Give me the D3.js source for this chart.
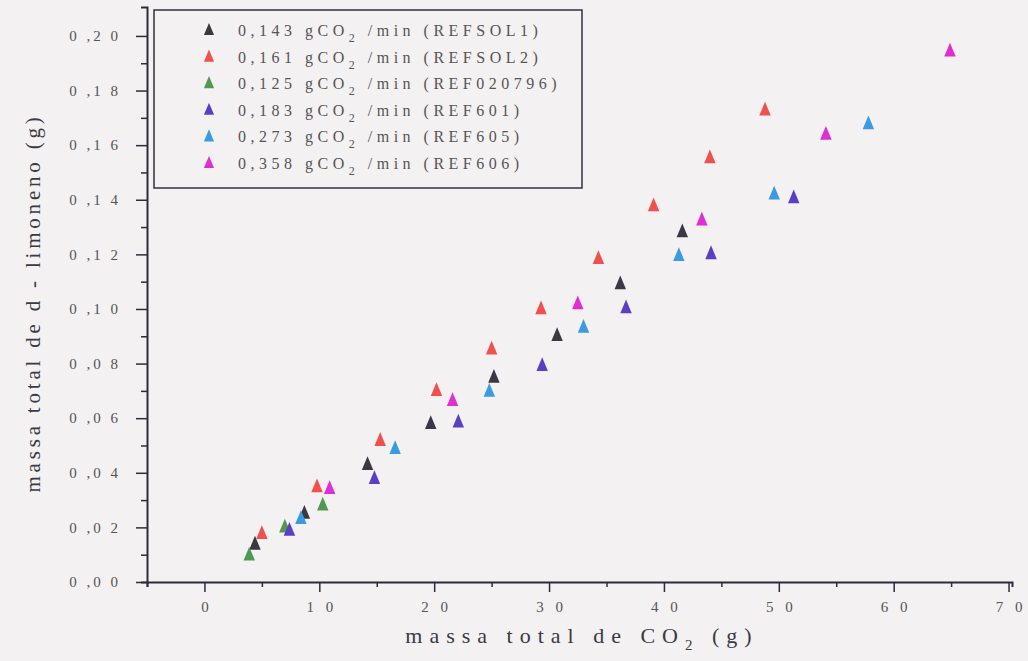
<!DOCTYPE html>
<html>
<head>
<meta charset="utf-8">
<script src="https://cdn.jsdelivr.net/npm/d3@7"></script>
<style>
  body { margin: 0; background: #f3f1f1; }
  svg { display: block; }
  text { font-family: "Liberation Serif", "DejaVu Serif", serif; }
</style>
</head>
<body>
<svg id="chart" width="1028" height="661"></svg>
<script>
// series: x = massa total de CO2 (g), y = massa total de d-limoneno (g)
const series = ['REFSOL1', 'REFSOL2', 'REF020796', 'REF601', 'REF605', 'REF606'];
const rates = ['0,143', '0,161', '0,125', '0,183', '0,273', '0,358'];
const colors = ['#3b3744', '#f0504e', '#4f9a50', '#5a3fc6', '#3b9ae2', '#e02ed2'];

const xSol1 = [4.4, 8.7, 14.2, 19.7, 25.2, 30.7, 36.2, 41.6];
const ySol1 = [0.0139, 0.0252, 0.0431, 0.0581, 0.0750, 0.0903, 0.1093, 0.1283];
const xSol2 = [5.0, 9.8, 15.3, 20.2, 25.0, 29.3, 34.3, 39.1, 44.0, 48.8];
const ySol2 = [0.0178, 0.0349, 0.0519, 0.0702, 0.0854, 0.1001, 0.1185, 0.1378, 0.1554, 0.1729];
const x0207 = [3.9, 7.0, 10.3];
const y0207 = [0.0099, 0.0202, 0.0282];
const x601 = [7.4, 14.8, 22.1, 29.4, 36.7, 44.1, 51.3];
const y601 = [0.0190, 0.0379, 0.0586, 0.0793, 0.1005, 0.1203, 0.1408];
const x605 = [8.4, 16.6, 24.8, 33.0, 41.3, 49.6, 57.8];
const y605 = [0.0233, 0.0489, 0.0699, 0.0933, 0.1196, 0.1421, 0.1679];
const x606 = [10.9, 21.6, 32.5, 43.3, 54.1, 64.9];
const y606 = [0.0343, 0.0665, 0.1019, 0.1326, 0.1640, 0.1945];

const xs = [xSol1, xSol2, x0207, x601, x605, x606];
const ys = [ySol1, ySol2, y0207, y601, y605, y606];

const xTicks = [0, 10, 20, 30, 40, 50, 60, 70];
const yTicks = [0, 0.02, 0.04, 0.06, 0.08, 0.10, 0.12, 0.14, 0.16, 0.18, 0.20];

const svg = d3.select('#chart');
const mLeft = 147, mRight = 1012, mTop = 7, mBottom = 582;

const x = d3.scaleLinear().domain([-5, 70.3]).range([mLeft, mRight]);
const y = d3.scaleLinear().domain([0, 0.2106]).range([mBottom, mTop]);

// tick label like "0 ,2 0"
const yFmt = d => '0 ,' + d3.format('02')(Math.round(d * 100)).split('').join(' ');
const xFmt = d => String(d).split('').join(' ');
const isMajorX = d => xTicks.includes(d);
const isMajorY = d => yTicks.some(t => Math.abs(t - d) < 1e-6);

// x axis
const gx = svg.append('g').attr('transform', 'translate(0,' + mBottom + ')');
gx.call(d3.axisBottom(x).tickValues(d3.range(-5, 71, 5)).tickSize(5).tickFormat(''));
gx.selectAll('.tick').filter(isMajorX).select('line').attr('y2', 10);
gx.selectAll('.tick').filter(isMajorX).append('text')
  .attr('y', 30).attr('dx', 2).attr('fill', '#555').attr('font-size', 15)
  .attr('text-anchor', 'middle').attr('letter-spacing', 4)
  .text(d => xFmt(d));

// y axis
const gy = svg.append('g').attr('transform', 'translate(' + mLeft + ',0)');
gy.call(d3.axisLeft(y).tickValues(d3.range(0, 0.2051, 0.01)).tickSize(6).tickFormat(''));
gy.selectAll('.tick').filter(isMajorY).select('line').attr('x2', -11);
gy.selectAll('.tick').filter(isMajorY).append('text')
  .attr('x', -26).attr('dy', '0.32em').attr('fill', '#555').attr('font-size', 15)
  .attr('text-anchor', 'end').attr('letter-spacing', 3)
  .text(d => yFmt(d));

svg.selectAll('.domain').attr('stroke', '#2e2c3a').attr('stroke-width', 2);
svg.selectAll('.tick line').attr('stroke', '#2e2c3a').attr('stroke-width', 1.5);

// axis titles
svg.append('text')
  .attr('x', 582).attr('y', 643).attr('text-anchor', 'middle')
  .attr('font-size', 22).attr('fill', '#3a3a44').attr('letter-spacing', 7)
  .call(t => {
    t.append('tspan').text('massa total de CO');
    t.append('tspan').attr('font-size', 15).attr('dy', 7).text('2');
    t.append('tspan').attr('dy', -7).text(' (g)');
  });

svg.append('text')
  .attr('transform', 'translate(40,' + 303 + ') rotate(-90)')
  .attr('text-anchor', 'middle').attr('font-size', 21).attr('fill', '#3a3a44')
  .attr('letter-spacing', 3.8)
  .text('massa total de d - limoneno (g)');

// triangle marker
const tri = d3.symbol().type(d3.symbolTriangle).size(70);

series.forEach((s, i) => {
  svg.append('g').selectAll('path')
    .data(xs[i].map((v, k) => [v, ys[i][k]]))
    .join('path')
    .attr('d', tri)
    .attr('transform', d => 'translate(' + x(d[0]) + ',' + (y(d[1]) + 1) + ') scale(0.9,1.25)')
    .attr('fill', colors[i]);
});

// legend
const lg = svg.append('g');
lg.append('rect').attr('x', 154).attr('y', 10).attr('width', 428).attr('height', 178)
  .attr('fill', 'none').attr('stroke', '#33313e').attr('stroke-width', 1.5);

series.forEach((s, i) => {
  const ry = 34 + i * 26.6;
  lg.append('path').attr('d', tri)
    .attr('transform', 'translate(209,' + (ry - 3) + ') scale(0.8,1.1)')
    .attr('fill', colors[i]);
  const t = lg.append('text').attr('x', 238).attr('y', ry + 2)
    .attr('font-size', 16).attr('fill', '#555').attr('letter-spacing', 4.5);
  t.append('tspan').text(rates[i] + ' gCO');
  t.append('tspan').attr('font-size', 12).attr('dy', 6).text('2');
  t.append('tspan').attr('dy', -6).text(' /min (' + s + ')');
});
</script>
</body>
</html>
